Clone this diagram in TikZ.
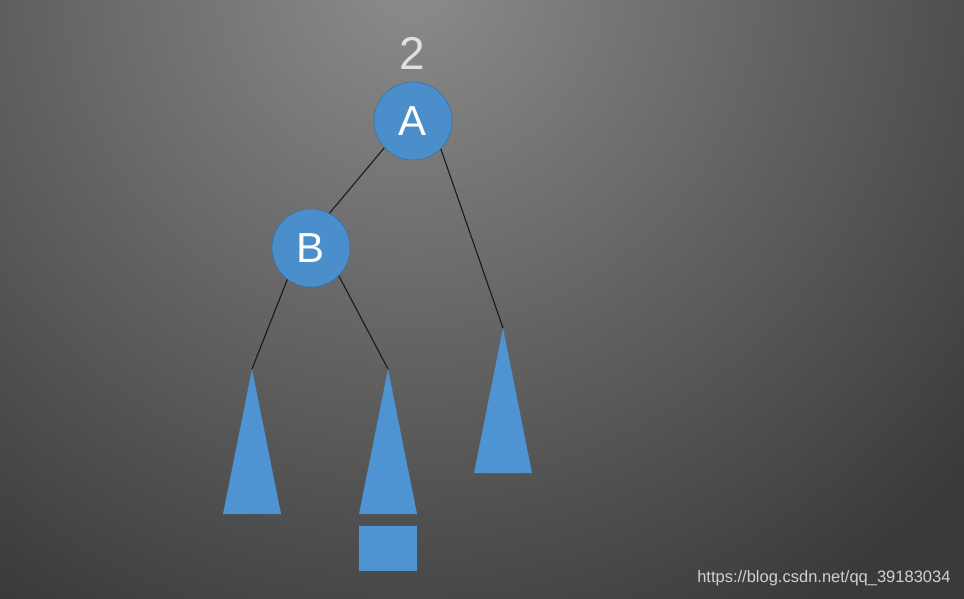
\documentclass[tikz,border=0pt]{standalone}
\usepackage{fontspec}
\newfontfamily\hv{Liberation Sans}
\definecolor{bgin}{RGB}{140,140,140}
\definecolor{bgout}{RGB}{58,58,58}
\definecolor{nodeblue}{RGB}{74,142,204}
\definecolor{triblue}{RGB}{78,148,210}
\definecolor{edgecol}{RGB}{25,25,25}
\pgfdeclareradialshading{bgshade}{\pgfpoint{0bp}{0bp}}{color(0bp)=(bgin); color(25bp)=(bgout); color(50bp)=(bgout)}
\tikzset{
  treenode/.style={circle, fill=nodeblue, draw=nodeblue!80!black, line width=0.6pt, minimum size=78pt, inner sep=0pt, text=white, font=\hv\fontsize{42}{42}\selectfont},
  treeedge/.style={draw=edgecol, line width=1.1pt},
  subtree/.style={fill=triblue},
}
\begin{document}
\begin{tikzpicture}[x=1pt,y=-1pt]
\useasboundingbox (0,0) rectangle (964,598);
\begin{scope}
  \clip (-6,-6) rectangle (970,604);
  \fill[bgout] (-6,-6) rectangle (970,604);
  \shade[shading=bgshade] (410,-20) circle (740);
\end{scope}
% label
\node[text=white!88!black, font=\hv\fontsize{46}{46}\selectfont] (lbl) at (412,53) {2};
% nodes
\node[treenode] (A) at (413,121) {A};
\node[treenode] (B) at (311,248) {B};
% subtree apexes
\coordinate (tl) at (252,369);
\coordinate (tm) at (388,369);
\coordinate (tr) at (503,328);
% subtrees
\fill[subtree] (tl) -- (281,514) -- (223,514) -- cycle;
\fill[subtree] (tm) -- (417,514) -- (359,514) -- cycle;
\fill[subtree] (tr) -- (532,473) -- (474,473) -- cycle;
\fill[subtree] (359,526) rectangle (417,571);
% edges
\draw[treeedge] (A.-137) -- (B.62);
\draw[treeedge] (A.-45) -- (tr);
\draw[treeedge] (B.-127) -- (tl);
\draw[treeedge] (B.-45) -- (tm);
% watermark
\node[text=white!82!black, font=\hv\fontsize{16.5}{16.5}\selectfont, anchor=east] (wm) at (954,578) {https://blog.csdn.net/qq\_39183034};
\end{tikzpicture}
\end{document}
